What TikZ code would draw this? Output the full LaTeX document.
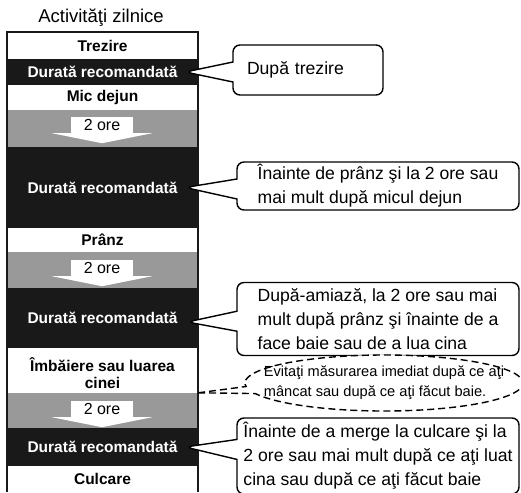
\documentclass[tikz,border=0pt]{standalone}
\usepackage{fontspec}
\setmainfont{Liberation Sans}
\usetikzlibrary{calc,shapes.callouts}

\begin{document}
\begin{tikzpicture}[x=1pt,y=-1pt,
band/.style={minimum width=191pt,inner sep=0pt,align=center,font=\fontsize{15.5}{17}\selectfont\bfseries},
lightband/.style={band,fill=white},
darkband/.style={band,fill=black!90,text=white},
grayband/.style={band,fill=black!40},
hours/.style={fill=white,minimum width=62pt,minimum height=16pt,inner sep=0pt,font=\fontsize{16}{16}\selectfont},
frame/.style={line width=1.8pt,draw=black!90},
note/.style={rectangle callout,draw=black,line width=1.4pt,rounded corners=7pt,fill=white,callout pointer width=20pt,font=\fontsize{17.6}{24}\selectfont,align=left,inner xsep=2pt,inner ysep=0pt},
widenote/.style={note,minimum width=282pt},
hint/.style={ellipse callout,draw=black,line width=1.4pt,dash pattern=on 7pt off 4pt,fill=white,align=left,font=\fontsize{14.6}{20}\selectfont,inner xsep=-32pt,inner ysep=-2pt}]
\useasboundingbox (0,0) rectangle (521,492);
\node[font=\fontsize{18.5}{20}\selectfont] (title) at (101,18) {Activităţi zilnice};
\node[lightband,minimum height=27pt] (wake) at (102.5,45.5) {Trezire};
\node[darkband,minimum height=26pt] (dur1) at (102.5,72) {Durată recomandată};
\node[lightband,minimum height=25pt] (breakfast) at (102.5,97.5) {Mic dejun};
\node[grayband,minimum height=37pt] (gap1) at (102.5,128.5) {};
\node[darkband,minimum height=81pt] (dur2) at (102.5,187.5) {Durată recomandată};
\node[lightband,minimum height=24pt] (lunch) at (102.5,240) {Prânz};
\node[grayband,minimum height=36pt] (gap2) at (102.5,270) {};
\node[darkband,minimum height=60pt] (dur3) at (102.5,318) {Durată recomandată};
\node[lightband,minimum height=45pt] (bath) at (102.5,373) {Îmbăiere sau luarea\\cinei};
\node[grayband,minimum height=35pt] (gap3) at (102.5,410.5) {};
\node[darkband,minimum height=38pt] (dur4) at (102.5,447) {Durată recomandată};
\node[lightband,minimum height=26pt] (bed) at (102.5,479) {Culcare};
\draw[frame] (bed.south west)--(wake.north west)--(wake.north east)--(bed.south east);
\node[hours] (hrs1) at (102,125) {2 ore};
\node[hours] (hrs2) at (102,268) {2 ore};
\node[hours] (hrs3) at (102,409) {2 ore};
\fill[white] ($(hrs1.south)+(-50,0)$)--($(hrs1.south)+(50,0)$)--($(hrs1.south)+(0,10)$)--cycle;
\fill[white] ($(hrs2.south)+(-50,0)$)--($(hrs2.south)+(50,0)$)--($(hrs2.south)+(0,10)$)--cycle;
\fill[white] ($(hrs3.south)+(-50,0)$)--($(hrs3.south)+(50,0)$)--($(hrs3.south)+(0,10)$)--cycle;
\node[note,text width=122pt,inner xsep=14pt,minimum height=50pt,callout absolute pointer={($(dur1.east)+(-13,0)$)}] (afterwake) at (308,70) {După trezire};
\node[widenote,minimum height=48pt,callout absolute pointer={($(dur2.east)+(-13,0)$)}] (beforelunch) at (378,186) {Înainte de prânz şi la 2 ore sau\\mai mult după micul dejun};
\node[widenote,minimum height=73pt,callout absolute pointer={($(dur3.east)+(-11,4)$)}] (afternoon) at (378,319) {După-amiază, la 2 ore sau mai\\mult după prânz şi înainte de a\\face baie sau de a lua cina};
\node[widenote,minimum height=76pt,callout absolute pointer={($(dur4.east)+(-13,0)$)}] (beforebed) at (378,456) {Înainte de a merge la culcare şi la\\2 ore sau mai mult după ce aţi luat\\cina sau după ce aţi făcut baie};
\node[hint,minimum width=278pt,minimum height=56pt,callout absolute pointer=(gap3.north east)] (avoid) at (384,383) {Evitaţi măsurarea imediat după ce aţi\\mâncat sau după ce aţi făcut baie.};
\end{tikzpicture}
\end{document}
